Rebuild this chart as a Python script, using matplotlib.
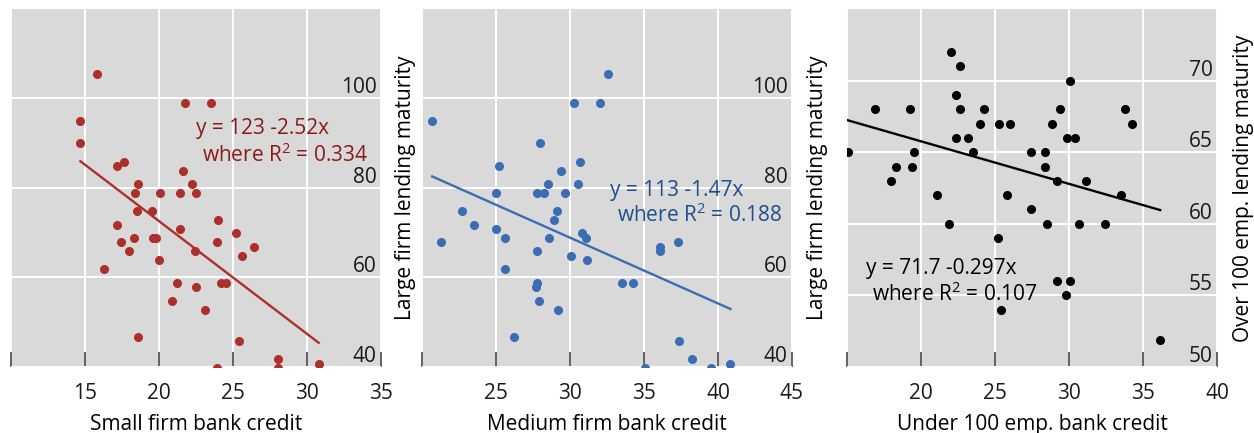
import numpy as np
import matplotlib.pyplot as plt

plt.rcParams['font.family'] = ['Open Sans', 'DejaVu Sans']

# small firm bank credit vs large firm lending maturity
small_credit = [15.81, 14.69, 14.69, 17.18, 17.61, 18.58, 18.40, 18.49, 19.50, 17.18,
                17.41, 18.31, 17.99, 16.30, 19.62, 19.78, 19.99, 20.10, 21.39, 21.59,
                22.20, 22.51, 21.41, 21.79, 23.50, 22.44, 23.98, 23.91, 25.19, 26.41,
                25.60, 21.19, 22.51, 20.89, 23.08, 24.20, 24.52, 18.58, 25.39, 28.07,
                28.07, 23.91, 30.79]
small_maturity = [105.4, 94.9, 90.0, 84.9, 85.9, 80.9, 78.9, 74.9, 74.9, 71.8,
                  67.9, 68.8, 65.9, 61.8, 68.8, 68.8, 63.8, 78.9, 78.9, 83.9,
                  80.9, 78.9, 70.8, 99.0, 99.0, 65.9, 72.9, 67.9, 69.9, 66.8,
                  64.8, 58.8, 57.8, 54.8, 52.8, 58.8, 58.8, 46.7, 45.7, 41.7,
                  39.8, 39.8, 40.7]

# medium firm bank credit vs large firm lending maturity
medium_credit = [32.60, 20.69, 30.24, 32.06, 27.99, 25.18, 30.69, 29.38, 28.48, 30.57,
                 25.00, 27.76, 28.21, 29.67, 22.69, 29.09, 23.49, 28.89, 24.98, 21.29,
                 25.58, 28.60, 30.80, 31.09, 27.79, 30.10, 31.18, 25.58, 36.08, 36.08,
                 37.29, 27.76, 27.67, 27.88, 29.20, 33.49, 34.28, 26.19, 37.38, 38.26,
                 35.07, 39.56, 40.84]
medium_maturity = [105.4, 94.9, 99.0, 99.0, 90.0, 84.9, 85.9, 83.9, 80.9, 80.9,
                   78.9, 78.9, 78.9, 78.9, 74.9, 74.9, 71.8, 72.9, 70.8, 67.9,
                   68.8, 68.8, 69.9, 68.8, 65.9, 64.8, 63.8, 61.8, 66.8, 65.9,
                   67.9, 58.8, 57.8, 54.8, 52.8, 58.8, 58.8, 46.7, 45.7, 41.7,
                   39.8, 39.8, 40.7]

# under 100 emp. bank credit vs over 100 emp. lending maturity
under100_credit = [22.00, 22.61, 22.38, 22.61, 16.90, 19.28, 24.27, 29.37, 33.75, 30.09,
                   23.98, 25.28, 25.98, 28.88, 34.27, 22.38, 23.19, 29.87, 30.38, 15.05,
                   19.53, 23.48, 27.46, 28.38, 18.29, 19.39, 28.38, 17.98, 29.17, 31.17,
                   21.08, 25.80, 33.48, 27.46, 21.89, 28.49, 30.70, 32.45, 25.19, 29.17,
                   30.09, 29.78, 25.39, 36.16]
over100_maturity = [72.0, 71.0, 69.0, 68.0, 68.0, 68.0, 68.0, 68.0, 68.0, 70.0,
                    67.0, 67.0, 67.0, 67.0, 67.0, 66.0, 66.0, 66.0, 66.0, 65.0,
                    65.0, 65.0, 65.0, 65.0, 64.0, 64.0, 64.0, 63.0, 63.0, 63.0,
                    62.0, 62.0, 62.0, 61.0, 60.0, 60.0, 60.0, 60.0, 59.0, 56.0,
                    56.0, 55.0, 54.0, 51.9]

intercepts = [123, 113, 71.7]
slopes = [-2.52, -1.47, -0.297]
r_squared = [0.334, 0.188, 0.107]

xlabels = ['Small firm bank credit', 'Medium firm bank credit', 'Under 100 emp. bank credit']
xticks = [[10, 15, 20, 25, 30, 35], [20, 25, 30, 35, 40, 45], [15, 20, 25, 30, 35, 40]]
yticks = [[40, 60, 80, 100], [40, 60, 80, 100], [50, 55, 60, 65, 70]]

xs = [small_credit, medium_credit, under100_credit]
ys = [small_maturity, medium_maturity, over100_maturity]
dot_colors = ['#ad2f2a', '#3a6db4', 'black']
text_colors = ['#8a1a17', '#1d4e8e', 'black']
ylims = [(40, 120), (40, 120), (50, 75)]
# text positions (data coords): first line, second line
text_pos = [((22.5, 92.0), (22.9, 85.9)),
            ((32.7, 78.3), (33.15, 72.3)),
            ((16.3, 56.5), (16.7, 54.6))]

fig = plt.figure(figsize=(12.54, 4.33), dpi=100)
lefts = [11, 422, 847]
for i in range(3):
    ax = fig.add_axes([lefts[i] / 1254, 66 / 433, 370 / 1254, 358 / 433])
    ax.set_facecolor('#d9d9d9')
    for s in ax.spines.values():
        s.set_visible(False)
    ax.grid(True, color='white', linewidth=1.4, zorder=0)
    ax.set_axisbelow(True)

    x = np.array(xs[i])
    ax.plot(x, ys[i], 'o', color=dot_colors[i], markersize=5.5, zorder=3, clip_on=True)
    xl = np.array([x.min(), x.max()])
    ax.plot(xl, intercepts[i] + slopes[i] * xl, color=dot_colors[i], linewidth=1.7, zorder=3)

    (tx1, ty1), (tx2, ty2) = text_pos[i]
    ax.text(tx1, ty1, f'y = {intercepts[i]:g} {slopes[i]:g}x', color=text_colors[i],
            fontsize=15, va='baseline', ha='left', zorder=4)
    ax.text(tx2, ty2, 'where R$^{\\mathregular{2}}$ = ' + f'{r_squared[i]:g}', color=text_colors[i],
            fontsize=15, va='baseline', ha='left', zorder=4)

    ax.set_xlim(xticks[i][0], xticks[i][-1])
    ax.set_ylim(*ylims[i])
    ax.set_xticks(xticks[i], [''] + [str(t) for t in xticks[i][1:]])
    ax.tick_params(axis='x', direction='in', length=11, width=1.3, color='#555555',
                   pad=11.5, labelsize=15, labelcolor='#1a1a1a')
    ax.yaxis.tick_right()
    ax.set_yticks(yticks[i], [str(t) for t in yticks[i]])
    ax.tick_params(axis='y', length=0, pad=-3, labelsize=15, labelcolor='#1a1a1a')
    plt.setp(ax.get_yticklabels(), ha='right', va='bottom')
    ax.set_xlabel(xlabels[i], fontsize=15, labelpad=7.5)

fig.text(405 / 1254, 1 - 188 / 433, 'Large firm lending maturity', rotation=90,
         ha='center', va='center', fontsize=15)
fig.text(818 / 1254, 1 - 188 / 433, 'Large firm lending maturity', rotation=90,
         ha='center', va='center', fontsize=15)
fig.text(1243 / 1254, 1 - 188 / 433, 'Over 100 emp. lending maturity', rotation=90,
         ha='center', va='center', fontsize=15)

fig.savefig('out.png', dpi=100)
